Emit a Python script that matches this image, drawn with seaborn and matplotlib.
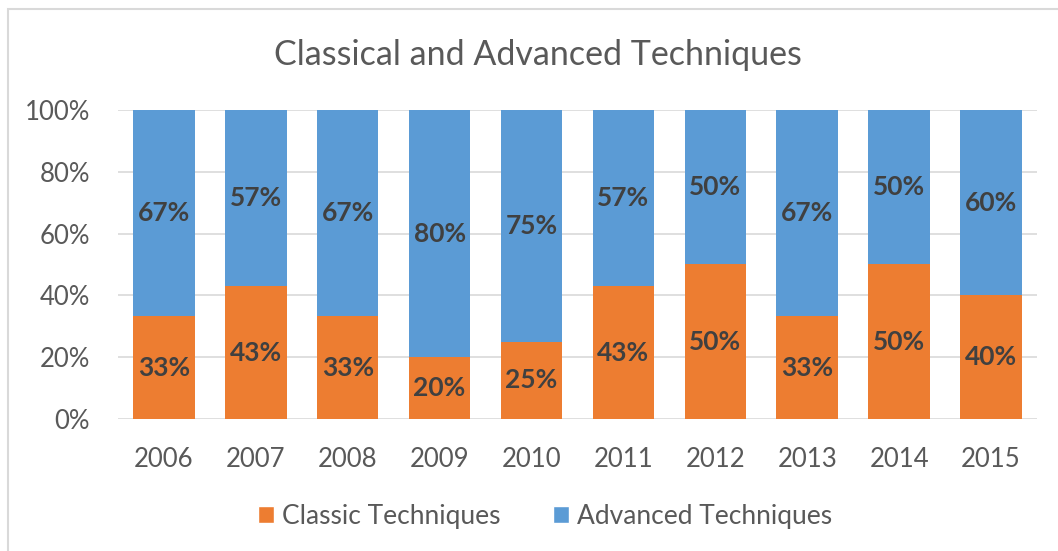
import numpy as np
import pandas as pd
import seaborn as sns
import matplotlib.pyplot as plt
from matplotlib.patches import Rectangle, Patch
from matplotlib.ticker import FuncFormatter

sns.set_theme(style="white")
plt.rcParams["font.family"] = ["Lato", "DejaVu Sans"]

# Data (percent share per year)
years = ["2006", "2007", "2008", "2009", "2010", "2011", "2012", "2013", "2014", "2015"]
classic = [33.3, 42.9, 33.3, 20.0, 25.0, 42.9, 50.0, 33.3, 50.0, 40.0]
advanced = [66.7, 57.1, 66.7, 80.0, 75.0, 57.1, 50.0, 66.7, 50.0, 60.0]

orange = "#ED7D31"
blue = "#5B9BD5"
text_gray = "#595959"
label_gray = "#404040"

df = pd.DataFrame({"year": years, "classic": classic, "advanced": advanced})

fig = plt.figure(figsize=(10.58, 5.51), dpi=100)
ax = fig.add_axes([0.1115, 0.2396, 0.8686, 0.5608])

sns.barplot(data=df, x="year", y="classic", color=orange, saturation=1,
            width=0.67, errorbar=None, ax=ax, edgecolor="none")
sns.barplot(data=df, x="year", y="advanced", bottom=np.array(classic),
            color=blue, saturation=1, width=0.67, errorbar=None, ax=ax,
            edgecolor="none")

# segment labels
for cont, vals in zip(ax.containers, [classic, advanced]):
    ax.bar_label(cont, labels=[f"{v:.0f}%" for v in vals], label_type="center",
                 fontsize=19, fontweight="bold", color=label_gray)

ax.set_ylim(0, 100)
ax.set_xlim(-0.5, len(years) - 0.5)
ax.set_yticks([0, 20, 40, 60, 80, 100])
ax.yaxis.set_major_formatter(FuncFormatter(lambda v, p: f"{v:.0f}%"))
ax.yaxis.grid(True, color="#D9D9D9", linewidth=1.2)
ax.set_axisbelow(True)
for s in ax.spines.values():
    s.set_visible(False)
ax.tick_params(axis="both", length=0, labelsize=18.5, colors=text_gray)
ax.tick_params(axis="x", pad=20)
ax.tick_params(axis="y", pad=20)
ax.set_xlabel("")
ax.set_ylabel("")

fig.text(0.508, 0.9, "Classical and Advanced Techniques", ha="center",
         va="center", fontsize=24.5, color=text_gray)

handles = [Patch(facecolor=orange, label="Classic Techniques"),
           Patch(facecolor=blue, label="Advanced Techniques")]
fig.legend(handles=handles, loc="center", bbox_to_anchor=(0.515, 0.063),
           ncol=2, frameon=False, fontsize=19, handlelength=0.6,
           handleheight=0.6, handletextpad=0.3, columnspacing=2.0,
           labelcolor=text_gray)

# outer chart border (top-left visible)
fig.patches.append(Rectangle((8 / 1058, -0.1), 1.2, 1 - 9 / 551 + 0.1,
                             transform=fig.transFigure, fill=False,
                             edgecolor="#D9D9D9", linewidth=1.5))

fig.savefig("out.png", dpi=100)
